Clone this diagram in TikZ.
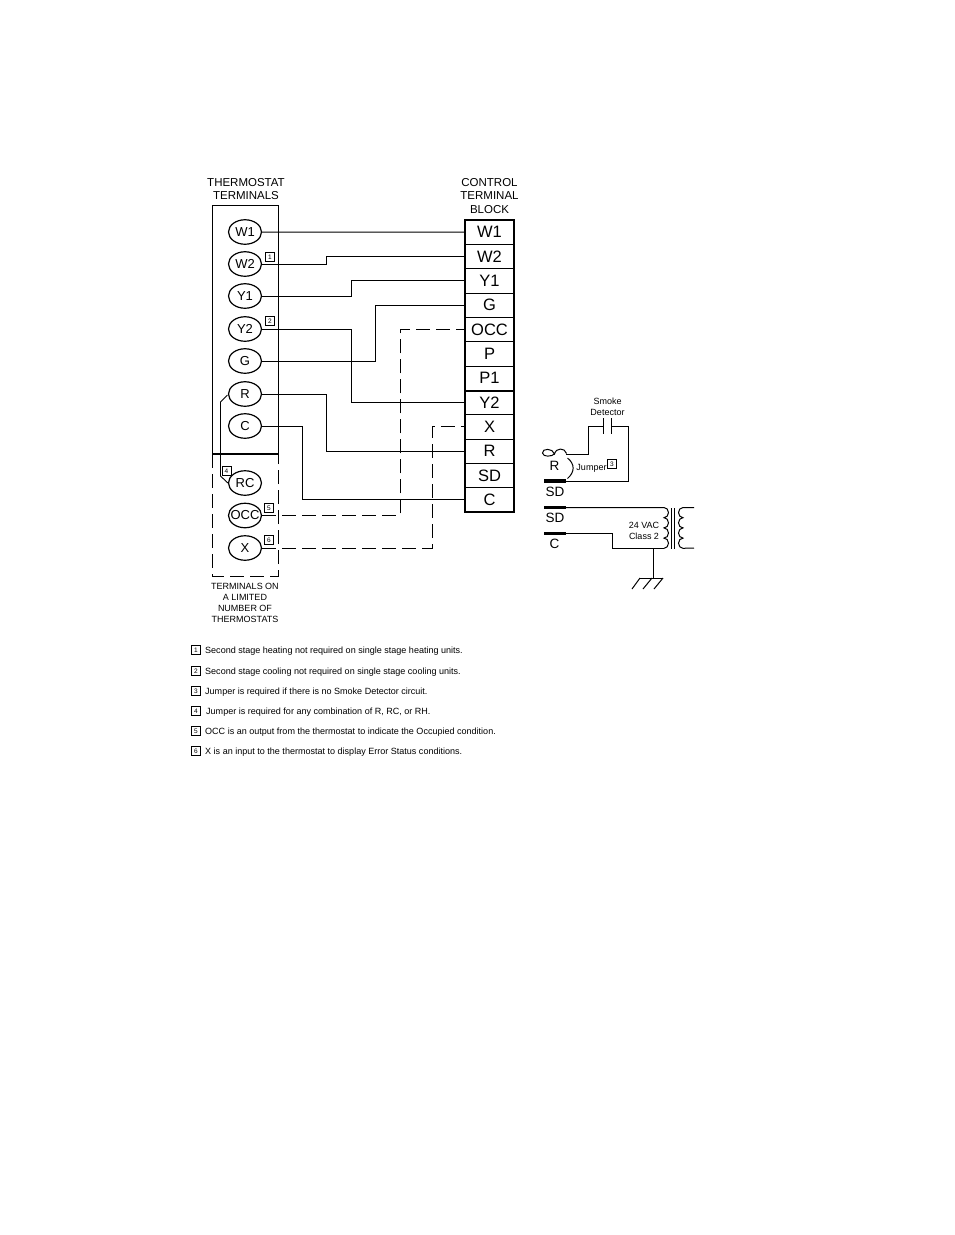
\documentclass[tikz,border=0pt]{standalone}
\usepackage{fontspec}
\setmainfont{Liberation Sans}
\usetikzlibrary{shapes.geometric, positioning}
\tikzset{
	wire/.style={line width=1pt},
	dashwire/.style={line width=1pt, dash pattern=on 14pt off 6pt},
	term/.style={draw, ellipse, line width=1.2pt, minimum width=33pt, minimum height=24.5pt, inner sep=0pt, font=\fontsize{13}{13}\selectfont},
	cell/.style={draw, line width=0.9pt, minimum width=49pt, minimum height=24.33pt, inner sep=0pt, font=\fontsize{16.5}{16.5}\selectfont},
	numbox/.style={draw, line width=0.7pt, minimum size=9pt, inner sep=0pt, font=\fontsize{6.5}{6.5}\selectfont},
	small/.style={font=\fontsize{9}{10.5}\selectfont, align=center, inner sep=0pt},
	note/.style={font=\fontsize{9.03}{9}\selectfont, anchor=west, inner sep=0pt},
	head/.style={font=\fontsize{11.5}{13.5}\selectfont, align=center, inner sep=0pt},
	side/.style={font=\fontsize{13.5}{13.5}\selectfont, inner sep=0pt},
	bar/.style={line width=3.5pt}
}
\begin{document}
\begin{tikzpicture}[x=1pt, y=-1pt]
	\useasboundingbox (0,0) rectangle (954,1235);
	% thermostat side
	\node [head] (headT) at (246,189) {THERMOSTAT\\TERMINALS};
	\node [head] (headB) at (489.5,196) {CONTROL\\TERMINAL\\BLOCK};
	\draw [wire] (212,454) -- (212,205) -- (278,205) -- (278,454);
	\draw [line width=1.5pt] (212,454) -- (278,454);
	\draw [dashwire] (212,454) -- (212,576) -- (278,576) -- (278,454);
	\foreach \n/\y in {W1/232, W2/264, Y1/296, Y2/329, G/361, R/394, C/426, RC/483, OCC/515.5, X/548}
		\node [term] (t\n) at (245,\y) {\makebox[0pt]{\n}};
	% block
	\foreach \n [count=\i] in {W1,W2,Y1,G,OCC,P,P1,Y2,X,R,SD,C}
		\node [cell] (b\n) at (489.5,{220+(\i-0.5)*24.33}) {\n};
	\draw [line width=2pt] (bW1.north west) rectangle (bC.south east);
	\draw [line width=2pt] (bP1.south west) -- (bP1.south east);
	% wires
	\draw [wire] (tW1.east) -- (bW1.west);
	\foreach \a/\b/\x in {W2/W2/326, Y1/Y1/351, Y2/Y2/351, G/G/375, R/R/326, C/C/302}
		\draw [wire] (t\a.east) -| (\x,0 |- b\b.west) -- (b\b.west);
	\foreach \a/\x in {OCC/400, X/432}
		\draw [dashwire] (t\a.east) -| (\x,0 |- b\a.west) -- (b\a.west);
	\draw [line width=0.9pt] (tR.west) ++(-0.5,1) -- (220.5,402) -- (220.5,476) -- (tRC.west);
	% numbers
	\node [numbox] (n1) at (270,257) {1};
	\node [numbox] (n2) at (270,321) {2};
	\node [numbox] (n4) at (226.5,471) {4};
	\node [numbox] (n5) at (269,508) {5};
	\node [numbox] (n6) at (269,540) {6};
	\node [font=\fontsize{9}{11}\selectfont, align=center, inner sep=0pt] (limited) at (245,603) {TERMINALS ON\\A LIMITED\\NUMBER OF\\THERMOSTATS};
	% smoke detector
	\node [small] (smoke) at (607.5,407) {Smoke\\Detector};
	\coordinate (capL) at (603.5,426);
	\coordinate (capR) at (611,426);
	\draw [wire] (capL) ++(0,-8) -- ++(0,16);
	\draw [wire] (capR) ++(0,-8) -- ++(0,16);
	\coordinate (loopR) at (566,454);
	\coordinate (barR) at (566,481);
	\coordinate (barS) at (566,507.5);
	\coordinate (barC) at (566,533.5);
	\draw [wire] (loopR) -- (588,454) -- (588,426) -- (capL);
	\draw [wire] (barR) -- (628,481) -- (628,426) -- (capR);
	\draw [bar] (544,481) -- (barR);
	\draw [bar] (544,507.5) -- (barS);
	\draw [bar] (544,533.5) -- (barC);
	\draw [wire] (566.5,453.5) .. controls (565,447.5) and (556,447.5) .. (554.5,454) .. controls (553,448) and (542,448) .. (542.5,453) .. controls (543,457.5) and (552,456.5) .. (554.5,454);
	\draw [wire] (567.5,458) .. controls (575,464) and (575,472) .. (567.5,478.5);
	\node [side] (lblR) at (554.5,465.5) {R};
	\node [side] (lblSD1) at (555,491.5) {SD};
	\node [side] (lblSD2) at (555,518) {SD};
	\node [side] (lblC) at (554.5,544) {C};
	\node [small] (jumper) at (591.5,468) {Jumper};
	\node [numbox] (n3) at (612,464) {3};
	% transformer
	\draw [wire] (barS) -- (664,507.5) \foreach \k in {1,2,3,4} {arc [start angle=90, end angle=-90, x radius=4.5pt, y radius=5.1pt]};
	\draw [wire] (barC) -- (612,533.5) -- (612,548) -- (664,548);
	\draw [wire] (694,507.5) -- (683,507.5) \foreach \k in {1,2,3,4} {arc [start angle=90, end angle=270, x radius=4.5pt, y radius=5.1pt]} -- (694,548);
	\draw [wire] (671,508) -- (671,549);
	\draw [wire] (674,508) -- (674,549);
	\node [small] (vac) at (644,531) {24 VAC\\Class 2};
	% ground
	\draw [wire] (653,548) -- (653,578);
	\draw [wire] (640,578) -- (663,578);
	\draw [wire] (640,578) -- (632,589);
	\draw [wire] (652,578) -- (643,589);
	\draw [wire] (663,578) -- (654,589);
	% notes
	\foreach \k/\y/\x/\t in {
		1/650/205/{Second stage heating not required on single stage heating units.},
		2/671/205/{Second stage cooling not required on single stage cooling units.},
		3/691/205/{Jumper is required if there is no Smoke Detector circuit.},
		4/711/206/{Jumper is required for any combination of R, RC, or RH.},
		5/731/205/{OCC is an output from the thermostat to indicate the Occupied condition.},
		6/751/205/{X is an input to the thermostat to display Error Status conditions.}}
	{
		\node [numbox] (k\k) at (196,\y) {\k};
		\node [note] (note\k) at (\x,\y+1.5) {\t};
	}
\end{tikzpicture}
\end{document}
